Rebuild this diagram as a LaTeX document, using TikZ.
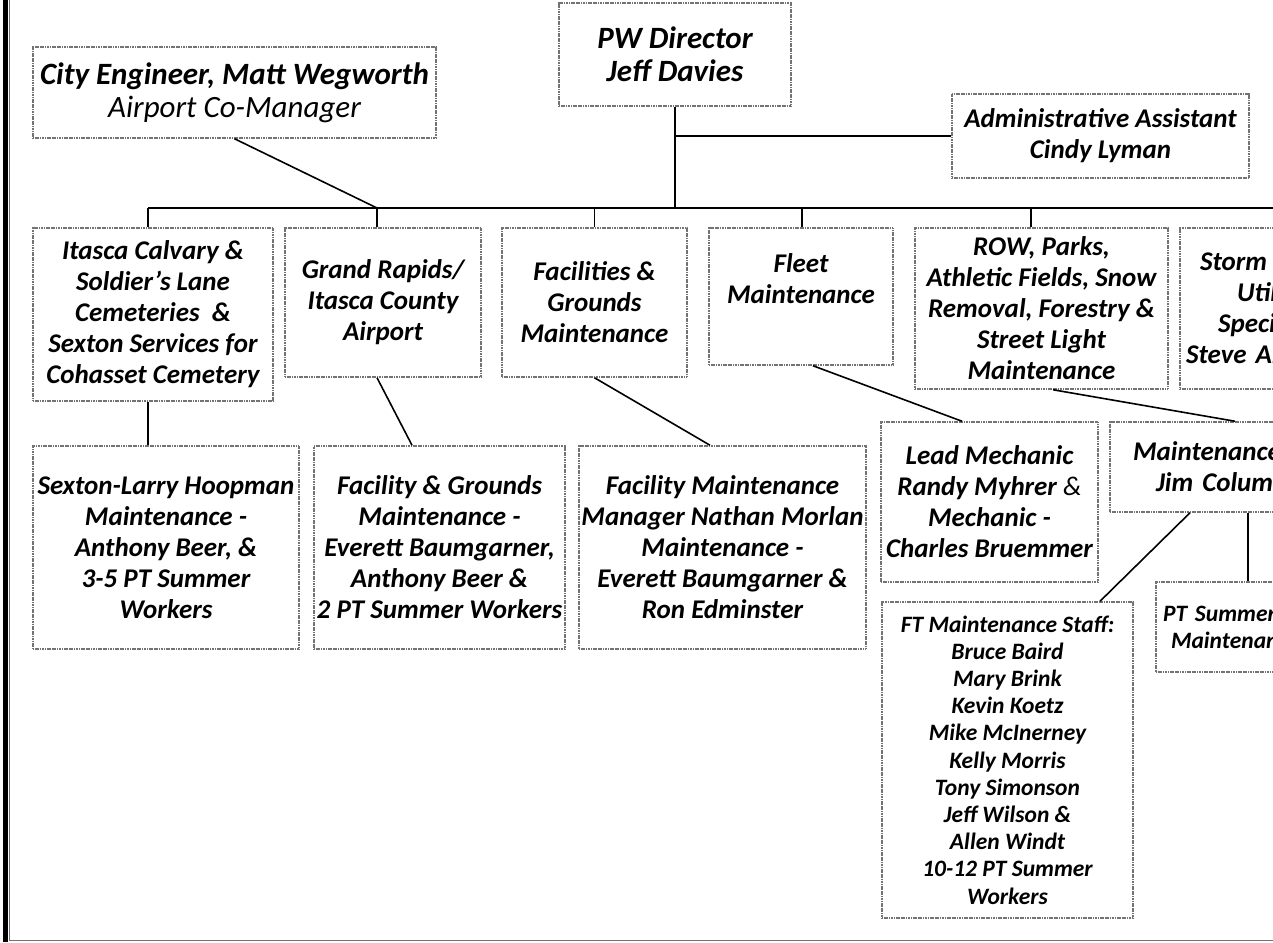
\documentclass[tikz,border=0pt]{standalone}
\usepackage{fontspec}
\setmainfont{Carlito}
\usepackage{tikz}
\usetikzlibrary{calc}

\newcommand{\chartfont}{\fontsize{27}{31}\selectfont}
\newcommand{\headfont}{\fontsize{31}{33}\selectfont}
\newcommand{\stafffont}{\fontsize{23.5}{27.2}\selectfont}

\tikzset{
  orgbox/.style={draw=black!55, line width=1.5pt, dash pattern=on 1.2pt off 0.5pt,
    align=center, inner sep=0pt, font={\chartfont\bfseries\itshape}},
  link/.style={line width=1.6pt, black},
}

\begin{document}
\begin{tikzpicture}[x=1pt,y=-1pt]
    \useasboundingbox (0,0) rectangle (1273,942);
    \clip (0,0) rectangle (1273,942);

    % page frame
    \fill[black] (3,0) rectangle (8,942);
    \draw[black!55, line width=1.2pt] (9.5,0) -- (9.5,940.5) -- (1273,940.5);

    % Top level
    \node[orgbox, font={\headfont\bfseries\itshape}, minimum width=403, minimum height=91]
        (cityeng) at (234.5,92.5) {City Engineer, Matt Wegworth\\{\mdseries Airport Co-Manager}};
    \node[orgbox, font={\headfont\bfseries\itshape}, minimum width=232, minimum height=103]
        (pw) at (675,54.5) {PW Director\\Jeff Davies};
    \node[orgbox, minimum width=297, minimum height=84]
        (admin) at (1100.5,136) {Administrative Assistant\\Cindy Lyman};

    % Divisions
    \node[orgbox, minimum width=240, minimum height=173] (itasca) at (153,314.5)
        {Itasca Calvary \&\\Soldier's Lane\\Cemeteries~~\&\\Sexton Services~for\\Cohasset~Cemetery};
    \node[orgbox, minimum width=196, minimum height=149] (airport) at (383,302.5)
        {Grand Rapids/\\Itasca County\\Airport};
    \node[orgbox, minimum width=185, minimum height=149] (facil) at (594.5,302.5)
        {Facilities \&\\Grounds\\Maintenance};
    \node[orgbox, minimum width=184, minimum height=137] (fleet) at (801,296.5)
        {Fleet\\Maintenance\\[-5pt]\strut};
    \node[orgbox, minimum width=253, minimum height=161] (row) at (1041.5,308.5)
        {ROW, Parks,\\Athletic Fields, Snow\\Removal, Forestry \&\\Street Light\\Maintenance};
    \node[orgbox, align=left, inner xsep=6pt, text width=248, minimum height=161] (storm) at (1310,308.5)
        {\hspace*{14pt}Storm\\\hspace*{51pt}Util\\\hspace*{32pt}Speci\\Steve Ar};

    % Staff
    \node[orgbox, minimum width=266, minimum height=203] (sexton) at (166,547.5)
        {Sexton-Larry Hoopman\\Maintenance -\\Anthony Beer, \&\\3-5 PT Summer\\Workers};
    \node[orgbox, minimum width=251, minimum height=203] (facground) at (439.5,547.5)
        {Facility \& Grounds\\Maintenance -\\Everett Baumgarner,\\Anthony Beer \&\\2 PT Summer Workers};
    \node[orgbox, minimum width=287, minimum height=203] (facmaint) at (722.5,547.5)
        {Facility Maintenance\\Manager Nathan Morlan\\Maintenance -\\Everett Baumgarner \&\\Ron Edminster};
    \node[orgbox, minimum width=217, minimum height=160] (lead) at (989.5,502)
        {Lead Mechanic\\Randy Myhrer {\mdseries\&}\\Mechanic -\\Charles Bruemmer};
    \node[orgbox, align=left, inner xsep=23pt, text width=204, minimum height=90] (maint) at (1235,467)
        {Maintenance\\\hspace*{23pt}Jim Colum};
    \node[orgbox, font={\stafffont\bfseries\itshape}, minimum width=251, minimum height=316] (ft) at (1007.5,760)
        {FT Maintenance Staff:\\Bruce Baird\\Mary Brink\\Kevin Koetz\\Mike McInerney\\Kelly Morris\\Tony Simonson\\Jeff Wilson \&\\Allen Windt\\10-12 PT Summer\\Workers};
    \node[orgbox, font={\stafffont\bfseries\itshape}, align=left, inner xsep=7pt, text width=170, minimum height=90] (pt) at (1248,627)
        {PT Summer\\\hspace*{8pt}Maintenan};

    % Connectors
    \coordinate (barL) at (148,208);
    \coordinate (barR) at (1273,208);
    \draw[link] (barL) -- (barR);
    \draw[link] (pw.south) -- (pw.south |- barL);
    \draw[link] (admin.west) -- (admin.west -| pw.south);
    \draw[link] (cityeng.south) -- ([xshift=-6pt]airport.north |- barL);
    \foreach \unit/\dx in {itasca/-5, airport/-6, facil/0, fleet/1, row/-10.5}
        \draw[link] ([xshift=\dx pt]\unit.north) -- ([xshift=\dx pt]\unit.north |- barL);
    \draw[link] (itasca.south -| barL) -- (sexton.north -| barL);
    \draw[link] ([xshift=-6pt]airport.south) -- ([xshift=-27.5pt]facground.north);
    \draw[link] (facil.south) -- ([xshift=-12.5pt]facmaint.north);
    \draw[link] ([xshift=12pt]fleet.south) -- ([xshift=-27.5pt]lead.north);
    \draw[link] ([xshift=11.5pt]row.south) -- (maint.north);
    \draw[link] ([xshift=-45pt]maint.south) -- ([xshift=92.5pt]ft.north);
    \draw[link] (pt.north |- maint.south) -- (pt.north);
\end{tikzpicture}
\end{document}
